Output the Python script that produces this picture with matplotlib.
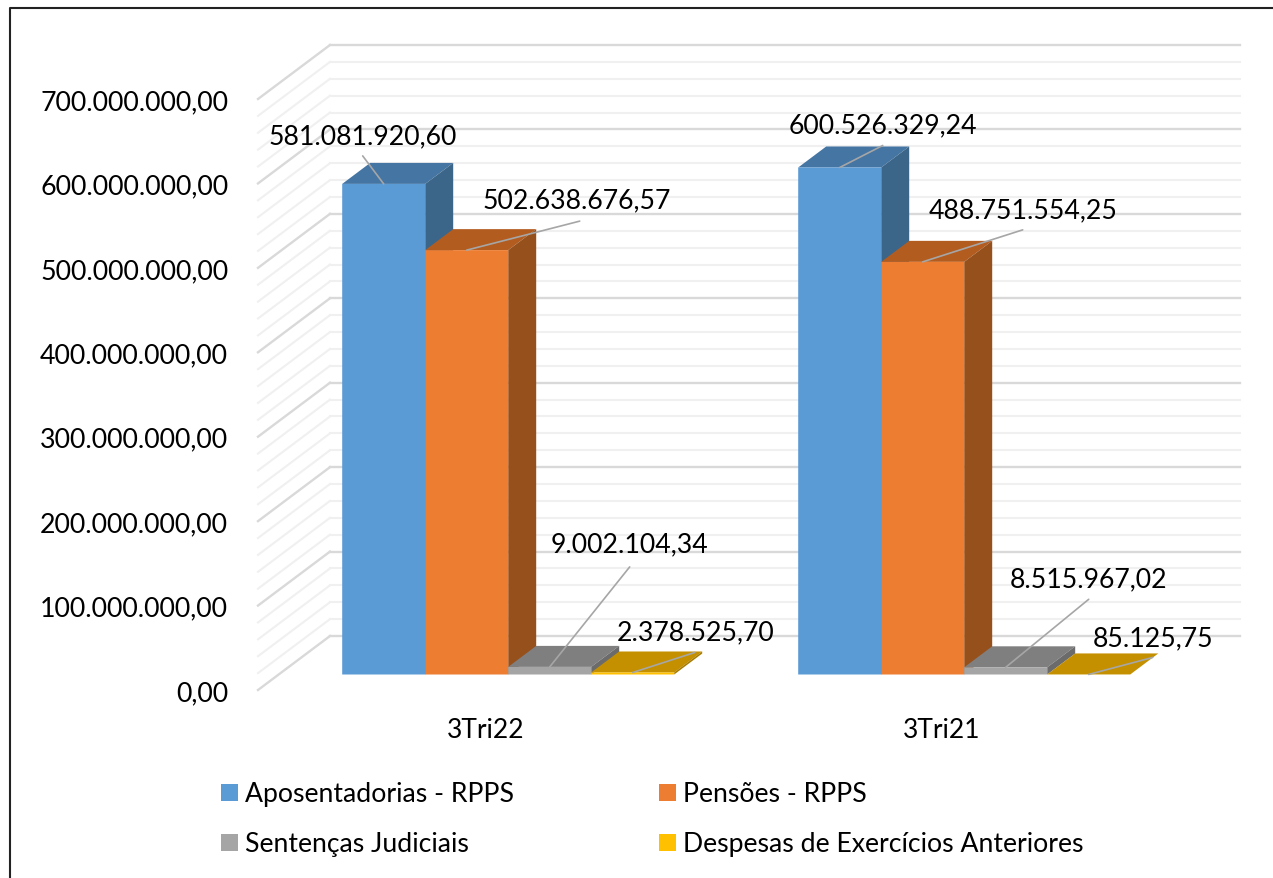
import matplotlib
matplotlib.use('Agg')
import matplotlib.pyplot as plt
from matplotlib.lines import Line2D
import numpy as np

plt.rcParams['font.family'] = ['Lato', 'DejaVu Sans']

categories = ['3Tri22', '3Tri21']
series_names = ['Aposentadorias - RPPS', 'Pensões - RPPS', 'Sentenças Judiciais',
                'Despesas de Exercícios Anteriores']
aposentadorias = [581081920.60, 600526329.24]
pensoes = [502638676.57, 488751554.25]
sentencas = [9002104.34, 8515967.02]
despesas = [2378525.70, 85125.75]
y_ticks = [0, 100e6, 200e6, 300e6, 400e6, 500e6, 600e6, 700e6]
grid_step = 20e6

front_colors = ['#5b9bd5', '#ed7d31', '#a5a5a5', '#ffc000']
top_colors = ['#4575a3', '#b35c20', '#7f7f7f', '#c49000']
side_colors = ['#3b6589', '#96501c', '#6b6b6b', '#a67a00']

# text centre and leader line end, in pixels from the bar top, one row per category
text_offsets = [[(-21, 48), (110, 50), (80, 123), (63, 41)],
                [(43, 43), (100, 52), (83, 88), (64, 37)]]
line_offsets = [[(-21, 28), (113, 29), (80, 100), (62, 20)],
                [(43, 22), (100, 32), (83, 68), (64, 17)]]

def br_number(v):
    return f'{v:,.2f}'.replace(',', 'X').replace('.', ',').replace('X', '.')

W, H = 1273, 879
fig = plt.figure(figsize=(W / 100, H / 100), dpi=100)
ax = fig.add_axes([258 / W, (H - 691) / H, 912 / W, 591 / H])
ax.set_xlim(-0.5, 1.5)
ax.set_ylim(0, 700e6)
for s in ax.spines.values():
    s.set_visible(False)

# size of one pixel in data units
px = 2 / 912
py = 700e6 / 591

wall_dx, wall_dy = 72 * px, 54 * py
for v in np.arange(0, 700e6 + 1, grid_step):
    major = v % 100e6 == 0
    col = '#d9d9d9' if major else '#f0f0f0'
    lw = 1.7 if major else 1.5
    ax.plot([-0.5, -0.5 + wall_dx], [v, v + wall_dy], color=col, lw=lw, clip_on=False, zorder=1)
    ax.plot([-0.5 + wall_dx, 1.5 + 70 * px], [v + wall_dy, v + wall_dy], color=col, lw=lw,
            clip_on=False, zorder=1)

# bars stand a little way in front of the back wall
lift_x, lift_y = 22.2 * px, 15.5 * py
depth_x, depth_y = 28 * px, 21 * py
bar_w = 83 * px
all_series = [aposentadorias, pensoes, sentencas, despesas]
handles = []
for k, values in enumerate(all_series):
    xpos = np.arange(len(categories)) + lift_x + (k - 1.5) * bar_w
    z = 3 + k
    bars = ax.bar(xpos, values, bar_w, bottom=lift_y, color=front_colors[k], label=series_names[k],
                  clip_on=False, zorder=z + 0.2)
    for b in bars:
        b.set_snap(False)
    handles.append(bars)
    for x, v in zip(xpos, values):
        l, r = x - bar_w / 2, x + bar_w / 2
        t = v + lift_y
        ax.fill([l, r, r + depth_x, l + depth_x], [t, t, t + depth_y, t + depth_y],
                color=top_colors[k], lw=0, clip_on=False, zorder=z)
        ax.fill([r, r + depth_x, r + depth_x, r], [lift_y, lift_y + depth_y, t + depth_y, t],
                color=side_colors[k], lw=0, clip_on=False, zorder=z)

for k, values in enumerate(all_series):
    xpos = np.arange(len(categories)) + lift_x + (k - 1.5) * bar_w
    for i, v in enumerate(values):
        anchor = (xpos[i], v + lift_y)
        ax.annotate('', xy=anchor, xytext=line_offsets[i][k], textcoords='offset pixels',
                    arrowprops=dict(arrowstyle='-', color='#a6a6a6', lw=1.2, shrinkA=0, shrinkB=0),
                    zorder=10)
        ax.annotate(br_number(v), xy=anchor, xytext=text_offsets[i][k], textcoords='offset pixels',
                    ha='center', va='center', fontsize=19.2, color='black', zorder=11)

ax.set_yticks(y_ticks)
ax.set_yticklabels([br_number(v) for v in y_ticks], fontsize=19.3)
ax.set_xticks(range(len(categories)))
ax.set_xticklabels(categories, fontsize=19)
ax.tick_params(axis='y', length=0, pad=21.5)
ax.tick_params(axis='x', length=0, pad=19.5)

fs = 19.2
fs_px = fs / 0.72
# legend fills by column, so rows read left to right with this order
legend_order = [0, 2, 1, 3]
ax.legend(handles=[handles[i] for i in legend_order], ncol=2, loc='upper left',
          bbox_to_anchor=(221 / W, (H - 782.5) / H),
          bbox_transform=fig.transFigure, frameon=False, fontsize=fs, borderpad=0, borderaxespad=0,
          handlelength=17 / fs_px, handleheight=16 / fs_px, handletextpad=7 / fs_px,
          columnspacing=145 / fs_px, labelspacing=25 / fs_px)

# outer border, only top and left are inside the picture
fig.add_artist(Line2D([9.5 / W, 9.5 / W, 1], [0, (H - 8.5) / H, (H - 8.5) / H], color='#222222', lw=1.5))

fig.savefig('out.png', dpi=100)
